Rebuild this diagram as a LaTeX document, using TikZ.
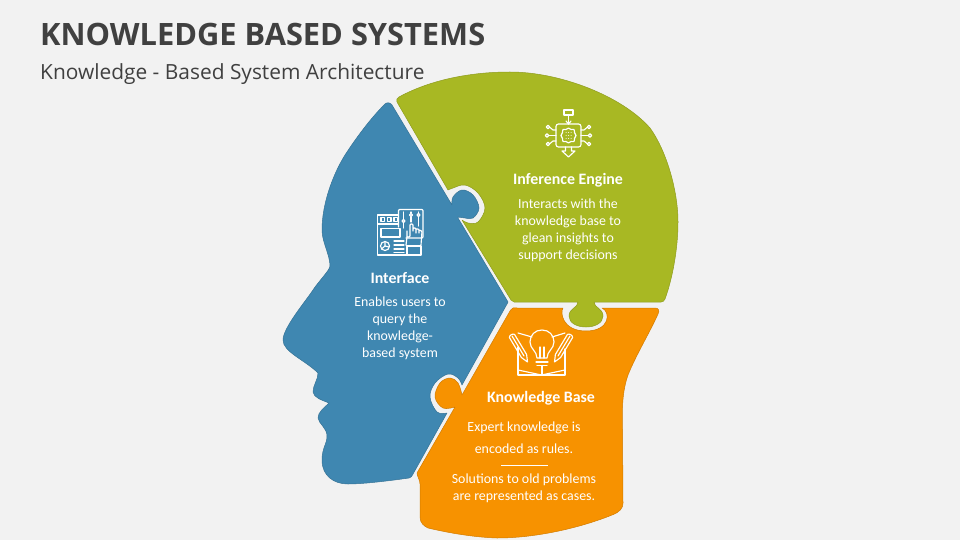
\documentclass[tikz,border=0pt]{standalone}
\usepackage{fontspec}
\setmainfont{Carlito}
\newfontfamily\titlefont{Open Sans}
\definecolor{bgc}{HTML}{F2F2F2}
\definecolor{bluec}{HTML}{3F87B1}
\definecolor{greenc}{HTML}{A8B823}
\definecolor{orangec}{HTML}{F79200}
\definecolor{inkc}{HTML}{404040}
\tikzset{
  piece/.style={line width=.5pt,line join=round},
  ico/.style={draw=white,line width=1.15pt,line join=round,line cap=round},
  heading/.style={text=white,font=\fontsize{15.9}{17}\selectfont\bfseries,anchor=center,inner sep=0pt},
  body/.style={text=white,font=\fontsize{13.9}{17}\selectfont,anchor=center,inner sep=0pt,align=center},
  sm/.style={smooth,tension=.6}
}
\begin{document}
\begin{tikzpicture}[x=1pt,y=-1pt]
\useasboundingbox (0,0) rectangle (960,540);
\fill[bgc] (0,0) rectangle (960,540);
\node[anchor=west,inner sep=0pt,text=inkc,font=\titlefont\fontsize{30.8}{36}\selectfont\bfseries] (title) at (40,34.5) {KNOWLEDGE BASED SYSTEMS};
\node[anchor=west,inner sep=0pt,text=inkc,font=\titlefont\fontsize{20.9}{24}\selectfont] (subtitle) at (40,74.5) {Knowledge - Based System Architecture};
% blue
\filldraw[piece,fill=bluec,draw=bluec!85!black]
 (392,105) .. controls (390,102) and (386,102) .. (384,105)
 .. controls (372,117) and (358,135) .. (345,155)
 .. controls (332,176) and (322,205) .. (322,230)
 .. controls (322,242) and (330,255) .. (330,266)
 .. controls (330,270) and (318,282) .. (313,290)
 .. controls (305,302) and (283,328) .. (283,340)
 .. controls (283,352) and (305,360) .. (318,373)
 .. controls (318,380) and (313,385) .. (313,392)
 .. controls (314,398) and (322,400) .. (329,403)
 .. controls (324,408) and (318,412) .. (318,418)
 .. controls (319,424) and (327,428) .. (327,436)
 .. controls (327,444) and (322,448) .. (322,460)
 .. controls (322,476) and (334,484) .. (348,484)
 .. controls (365,484) and (395,480) .. (409,478)
 .. controls (411,478) and (412,476) .. (413,474)
 -- (447,413)
 -- plot[sm] coordinates {(447,413)(437,412)(430,397)(435,383)(448,374)(458,378)(462,385)}
 -- (507,304) -- (508,302) -- (458,218)
 -- plot[sm] coordinates {(458,217)(465,218)(473,218)(479,208)(473,195)(462,190)(453,197)(452,205)}
 -- cycle;
% green
\filldraw[piece,fill=greenc,draw=greenc!85!black]
 (397,102) .. controls (396,100) and (397,98) .. (399,97)
 .. controls (430,80) and (470,72) .. (510,72)
 .. controls (560,72) and (622,96) .. (650,128)
 .. controls (666,150) and (678,190) .. (678,222)
 .. controls (678,250) and (672,280) .. (665,299)
 .. controls (664,301) and (663,302) .. (661,302)
 -- (594,302)
 .. controls (594,308) and (603,308) .. (603,316)
 .. controls (603,323) and (595,327) .. (586,327)
 .. controls (577,327) and (569,323) .. (569,316)
 .. controls (569,308) and (578,308) .. (578,302)
 -- (514,302) -- (511,300) -- (462,220)
 -- plot[sm] coordinates {(462,220)(468,223)(478,222)(485,208)(478,193)(465,185)(453,188)(448,190)}
 -- cycle;
% orange
\filldraw[piece,fill=orangec,draw=orangec!85!black]
 plot[sm] coordinates {(510,311)(513,308)(517,308)}
 -- (563,308)
 .. controls (560,312) and (562,331) .. (586,331)
 .. controls (610,331) and (611,312) .. (602,308)
 -- (655,308)
 .. controls (658,308) and (660,310) .. (658,314)
 .. controls (650,332) and (636,355) .. (628,375)
 .. controls (622,392) and (622,410) .. (622.5,430)
 -- (623,503)
 .. controls (623,508) and (620,512) .. (612,515)
 .. controls (585,526) and (540,538) .. (497,538)
 .. controls (470,537) and (445,532) .. (428,528)
 .. controls (424,526) and (420,523) .. (420,517)
 -- (420,484) .. controls (420,480) and (417,476) .. (417,473)
 -- (455,407)
 -- plot[sm] coordinates {(455,407)(443,408)(435,397)(440,383)(450,378)(458,383)(462,395)}
 -- cycle;
% Inference icon
\begin{scope}[ico]
 \draw (564,110) rectangle (573,115);
 \draw (568.5,115) -- (568.5,124);
 \draw (566,121) -- (568.5,124) -- (571,121);
 \draw[rounded corners=2.5pt] (556,124) rectangle (581,147);
 \draw plot[smooth cycle,tension=.7] coordinates {(568.5,128)(571,129.5)(574,129.5)(574.5,132.5)(576,135.5)(574.5,138.5)(574,141.5)(571,141.5)(568.5,143)(566,141.5)(563,141.5)(562.5,138.5)(561,135.5)(562.5,132.5)(563,129.5)(566,129.5)};
 \foreach \dx in {566,568.5,571}{\foreach \dy in {132.5,135.5,138.5}{\fill[white] (\dx,\dy) circle (.5);}}
 \draw (556,135.5) -- (549,135.5) (581,135.5) -- (588,135.5);
 \draw (556,130) -- (553,130) -- (550,127.5) (581,130) -- (584,130) -- (587,127.5);
 \draw (556,141) -- (553,141) -- (550,143.5) (581,141) -- (584,141) -- (587,143.5);
 \foreach \px/\py in {548/127,547/135.5,548/144,589/127,590/135.5,589/144}{\draw (\px,\py) circle (1.7);}
 \draw (565.5,147) -- (565.5,151) -- (562,151) -- (568.5,157) -- (575,151) -- (571.5,151) -- (571.5,147);
\end{scope}
% Interface icon
\begin{scope}[ico]
 \draw (398,215) -- (377.5,215) -- (377.5,255) -- (420,255);
 \draw (377.5,224) -- (398,224);
 \foreach \bx in {381,387.5,394}{\draw (\bx,217.5) rectangle (\bx+3.5,221.5);}
 \draw (381,228.5) rectangle (400,237);
 \draw (385,246) circle (4.5);
 \draw (385,246) -- (385,241.5) (385,246) -- (389,247) (385,246) -- (381.5,249);
 \draw (394,241) -- (404,241) (394,245) -- (404,245) (394,249) -- (404,249) (394,252.5) -- (404,252.5);
 \draw[rounded corners=1pt] (406,238) -- (423,238) -- (423,209.5) -- (398.5,209.5) -- (398.5,227);
 \foreach \sx/\sy in {403.5/221,411/215,418.5/215}{\draw (\sx,212) -- (\sx,\sy-2); \draw (\sx,\sy) circle (1.5);}
 \draw (403.5,223) -- (403.5,228);
 \draw (411,217) -- (411,222);
 \draw (418.5,217) -- (418.5,226);
 \draw[rounded corners=1pt] (407,237) -- (407,231) (407,237) -- (410,237) -- (410,224) -- (413,224) -- (413,231) (413,231) -- (413,228) -- (416,228) -- (416,233) (416,229) -- (419,229) -- (419,233) (419,230) -- (422,231) -- (421,245);
 \draw (407,237) -- (406,245) -- (407,246);
 \draw (407,246) rectangle (421,255);
\end{scope}
% Knowledge icon
\begin{scope}[ico]
 \draw (521.4,357.5) -- (509.4,337.5) .. controls (509,335.5) and (513,333) .. (514.6,334.5) -- (526.6,354.5) -- (527.5,362) -- cycle;
 \draw (512,336) -- (524,356);
 \draw (560.6,357.5) -- (572.6,337.5) .. controls (573,335.5) and (569,333) .. (567.4,334.5) -- (555.4,354.5) -- (554.5,362) -- cycle;
 \draw (570,336) -- (558,356);
 \draw (518,347) -- (518,375) -- (565,375) -- (565,349);
 \draw (518,370) -- (541.5,375) -- (565,370);
 \draw (518,333) -- (532,337);
 \draw (565,333) -- (552,337);
 \draw (537,358) .. controls (537,351) and (530,349) .. (530,342) .. controls (530,335) and (535,330) .. (542,330) .. controls (549,330) and (554,335) .. (554,342) .. controls (554,349) and (547,351) .. (547,358) -- cycle;
 \draw (540,358) -- (540,347) (544,358) -- (544,347);
 \draw (536,362) -- (548,362) (537,365.5) -- (547,365.5);
 \draw (542,365.5) -- (542,375);
\end{scope}
% Text
\node[heading] (n1) at (568,180) {Inference Engine};
\node[body] (n2) at (568,230.5) {Interacts with the\\knowledge base to\\glean insights to\\support decisions};
\node[heading] (n3) at (400,278) {Interface};
\node[body] (n4) at (400,328.5) {Enables users to\\query the\\knowledge-\\based system};
\node[heading] (n5) at (541,398) {Knowledge Base};
\node[body] (n6) at (524,428) {Expert knowledge is};
\node[body] (n7) at (524,449) {encoded as rules.};
\node[body] (n8) at (524,488.5) {Solutions to old problems\\are represented as cases.};
\coordinate (r1) at (501,465);
\coordinate (r2) at (548,465);
\draw[white,line width=.7pt] (r1) -- (r2);
\end{tikzpicture}
\end{document}
